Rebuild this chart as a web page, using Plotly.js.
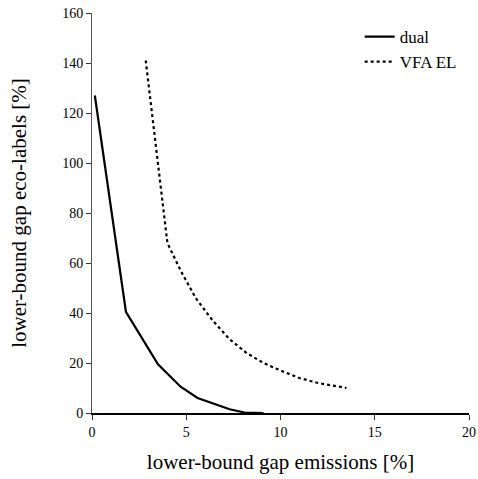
<!DOCTYPE html>
<html>
<head>
<meta charset="utf-8">
<script src="https://cdn.plot.ly/plotly-3.0.1.min.js"></script>
<style>html,body{margin:0;padding:0;background:#fff;}#chart{width:478px;height:479px;}</style>
</head>
<body>
<div id="chart"></div>
<script>
const dualX = [0.15, 1.8, 3.5, 4.7, 5.6, 6.5, 7.3, 8.1, 9.1];
const dualY = [127, 40.5, 19.5, 10.5, 6, 3.5, 1.5, 0.2, 0];
const vfaX = [2.85, 4.0, 4.7, 5.5, 6.4, 7.3, 8.2, 9.1, 10.0, 11.0, 12.0, 13.5];
const vfaY = [141, 68, 57, 46, 37, 29.5, 24, 20, 17, 14, 12, 10];
const xTicks = [0, 5, 10, 15, 20];
const yTicks = [0, 20, 40, 60, 80, 100, 120, 140, 160];

const fam = '"Liberation Serif", "Times New Roman", Times, serif';
const f = (size) => ({family: fam, size: size, color: '#000'});

Plotly.newPlot('chart', [
  {x: dualX, y: dualY, name: 'dual', mode: 'lines', line: {color: '#000', width: 2.2}},
  {x: vfaX, y: vfaY, name: 'VFA EL', mode: 'lines', line: {color: '#000', width: 2.2, dash: 'dot'}}
], {
  width: 478, height: 479,
  margin: {l: 92, r: 9, t: 13, b: 66},
  paper_bgcolor: '#fff', plot_bgcolor: '#fff',
  font: f(14),
  showlegend: true,
  legend: {x: 0.71, y: 0.985, xanchor: 'left', yanchor: 'top', font: f(17), bgcolor: 'rgba(0,0,0,0)', tracegroupgap: 0},
  xaxis: {
    range: [0, 20], tickvals: xTicks, ticktext: xTicks.map(String),
    showgrid: false, zeroline: false, showline: true, linecolor: '#000', linewidth: 1.5,
    ticks: 'outside', ticklen: 5, tickcolor: '#333', tickwidth: 1,
    tickfont: f(14),
    title: {text: 'lower-bound gap emissions [%]', font: f(21), standoff: 16}
  },
  yaxis: {
    range: [0, 160], tickvals: yTicks, ticktext: yTicks.map(String),
    showgrid: false, zeroline: false, showline: true, linecolor: '#555', linewidth: 1,
    ticks: 'outside', ticklen: 5, tickcolor: '#333', tickwidth: 1,
    tickfont: f(14),
    title: {text: 'lower-bound gap eco-labels [%]', font: f(21), standoff: 29}
  }
}, {displayModeBar: false});
</script>
</body>
</html>
